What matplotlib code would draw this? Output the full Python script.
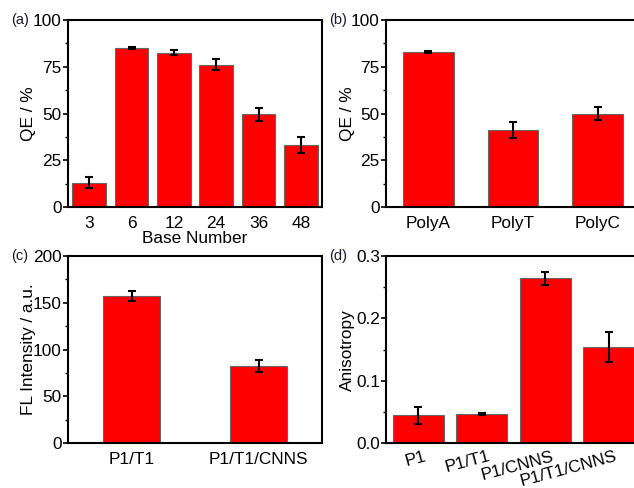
import matplotlib
matplotlib.use('Agg')
import matplotlib.pyplot as plt
import matplotlib.transforms as mtransforms
from matplotlib.ticker import MultipleLocator

plt.rcParams['font.family'] = ['Liberation Sans', 'DejaVu Sans']
plt.rcParams['font.size'] = 12.4

# (a) QE vs base number
base_labels = ['3', '6', '12', '24', '36', '48']
base_qe = [13.1, 85.0, 82.6, 76.2, 49.7, 33.5]
base_err = [3.0, 0.5, 1.3, 3.1, 3.4, 4.3]

# (b) QE vs poly type
poly_labels = ['PolyA', 'PolyT', 'PolyC']
poly_qe = [82.9, 41.2, 50.0]
poly_err = [0.5, 4.1, 3.5]

# (c) FL intensity
fl_labels = ['P1/T1', 'P1/T1/CNNS']
fl_vals = [157.4, 82.6]
fl_err = [5.3, 6.0]

# (d) anisotropy
an_labels = ['P1', 'P1/T1', 'P1/CNNS', 'P1/T1/CNNS']
an_vals = [0.0448, 0.0470, 0.2640, 0.1540]
an_err = [0.0135, 0.0010, 0.0110, 0.0235]

fig = plt.figure(figsize=(6.34, 4.88), dpi=100)
ax_a = fig.add_axes([0.1073, 0.5752, 0.4007, 0.3838])
ax_b = fig.add_axes([0.6088, 0.5752, 0.4007, 0.3838])
ax_c = fig.add_axes([0.1073, 0.0916, 0.4007, 0.3838])
ax_d = fig.add_axes([0.6096, 0.0916, 0.4007, 0.3838])


def bars(ax, labels, vals, errs, width):
    x = list(range(1, len(vals) + 1))
    ax.bar(x, vals, width=width, color='#ff0000', edgecolor='#666666',
           linewidth=0.8, zorder=2)
    ax.errorbar(x, vals, yerr=errs, fmt='none', ecolor='black',
                elinewidth=1.5, capsize=3, capthick=1.5, zorder=3)
    ax.set_xlim(0.5, len(vals) + 0.5)
    ax.set_xticks(x)
    ax.set_xticklabels(labels)
    for s in ax.spines.values():
        s.set_linewidth(1.5)
    ax.tick_params(axis='y', which='major', length=3.5, width=1.2, pad=1)
    ax.tick_params(axis='y', which='minor', length=2.2, width=1.0)
    ax.tick_params(axis='x', length=0, pad=6)


bars(ax_a, base_labels, base_qe, base_err, 0.8)
ax_a.set_ylim(0, 100)
ax_a.yaxis.set_major_locator(MultipleLocator(25))
ax_a.yaxis.set_minor_locator(MultipleLocator(12.5))
ax_a.set_ylabel('QE / %', labelpad=-2)
ax_a.set_xlabel('Base Number', labelpad=0)

bars(ax_b, poly_labels, poly_qe, poly_err, 0.6)
ax_b.set_ylim(0, 100)
ax_b.yaxis.set_major_locator(MultipleLocator(25))
ax_b.yaxis.set_minor_locator(MultipleLocator(12.5))
ax_b.set_ylabel('QE / %', labelpad=-3)

bars(ax_c, fl_labels, fl_vals, fl_err, 0.45)
ax_c.set_ylim(0, 200)
ax_c.yaxis.set_major_locator(MultipleLocator(50))
ax_c.yaxis.set_minor_locator(MultipleLocator(25))
ax_c.set_ylabel('FL Intensity / a.u.', labelpad=-2)

bars(ax_d, an_labels, an_vals, an_err, 0.8)
ax_d.set_ylim(0, 0.3)
ax_d.yaxis.set_major_locator(MultipleLocator(0.1))
ax_d.yaxis.set_minor_locator(MultipleLocator(0.05))
ax_d.yaxis.set_major_formatter(plt.FormatStrFormatter('%.1f'))
ax_d.set_ylabel('Anisotropy', labelpad=1)
ax_d.tick_params(axis='x', pad=4)
shift = mtransforms.ScaledTranslation(10 / 100, 0, fig.dpi_scale_trans)
for lab in ax_d.get_xticklabels():
    lab.set_rotation(15)
    lab.set_ha('right')
    lab.set_transform(lab.get_transform() + shift)

for ax, tag in [(ax_a, '(a)'), (ax_b, '(b)'), (ax_c, '(c)'), (ax_d, '(d)')]:
    ax.text(-0.225, 1.0, tag, transform=ax.transAxes, ha='left', va='center',
            fontsize=10.5, color='#1a1a2e')

fig.savefig('out.png', dpi=100)
